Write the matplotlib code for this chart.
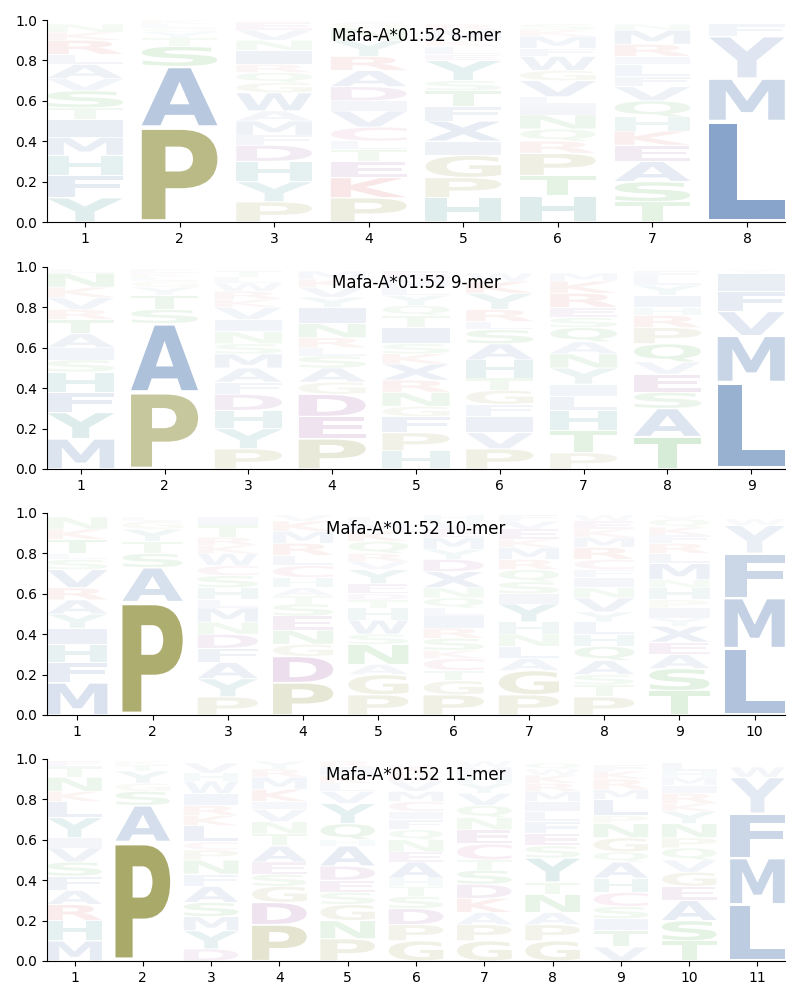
import matplotlib
matplotlib.use("Agg")
import matplotlib.pyplot as plt
from matplotlib.textpath import TextPath
from matplotlib.patches import PathPatch
from matplotlib.font_manager import FontProperties
from matplotlib.transforms import Affine2D

# letter frequencies per position, listed bottom -> top
logo_8mer = [
    [('Y', .12), ('F', .11), ('H', .10), ('M', .09), ('I', .09), ('T', .055), ('S', .085), ('V', .06), ('A', .07), ('L', .05), ('R', .07), ('K', .04), ('N', .04)],
    [('P', .47), ('A', .30), ('S', .10), ('T', .04), ('Y', .03), ('G', .02), ('L', .02), ('K', .02)],
    [('P', .10), ('Y', .10), ('H', .10), ('D', .08), ('F', .05), ('M', .07), ('A', .05), ('W', .09), ('G', .05), ('Q', .05), ('R', .04), ('I', .07), ('N', .05), ('V', .05), ('E', .04)],
    [('P', .12), ('K', .10), ('E', .08), ('T', .06), ('L', .04), ('C', .07), ('V', .08), ('I', .05), ('D', .07), ('A', .08), ('R', .07), ('Y', .08), ('N', .06), ('G', .03)],
    [('H', .12), ('P', .10), ('G', .11), ('I', .07), ('X', .10), ('F', .07), ('T', .08), ('S', .05), ('Y', .10), ('E', .03), ('L', .04), ('K', .03), ('M', .05), ('R', .03)],
    [('H', .13), ('T', .10), ('P', .11), ('R', .06), ('Q', .06), ('N', .07), ('I', .05), ('L', .04), ('V', .08), ('G', .05), ('W', .07), ('F', .04), ('M', .06), ('K', .03), ('S', .03)],
    [('T', .10), ('S', .10), ('A', .10), ('E', .08), ('K', .07), ('H', .07), ('Q', .08), ('V', .07), ('F', .05), ('L', .06), ('I', .04), ('R', .06), ('M', .07), ('N', .03)],
    [('L', .50), ('M', .21), ('Y', .21), ('F', .06)],
]

logo_9mer = [
    [('M', .15), ('Y', .13), ('F', .10), ('H', .10), ('S', .06), ('I', .06), ('A', .07), ('T', .07), ('R', .05), ('V', .06), ('K', .05), ('N', .07), ('L', .02)],
    [('P', .38), ('A', .34), ('S', .07), ('T', .07), ('Y', .04), ('G', .03), ('L', .02), ('K', .02), ('E', .02)],
    [('P', .10), ('Y', .10), ('H', .09), ('D', .08), ('F', .06), ('A', .07), ('M', .07), ('S', .05), ('N', .06), ('I', .06), ('V', .06), ('K', .04), ('R', .04), ('W', .04), ('L', .03), ('T', .03)],
    [('P', .15), ('E', .11), ('D', .11), ('G', .06), ('A', .07), ('S', .06), ('L', .04), ('R', .05), ('N', .07), ('I', .08), ('Y', .05), ('V', .05), ('K', .04), ('M', .04)],
    [('H', .09), ('P', .09), ('F', .08), ('G', .05), ('N', .07), ('R', .06), ('X', .08), ('K', .05), ('S', .05), ('I', .08), ('T', .06), ('Q', .05), ('Y', .05), ('L', .04), ('M', .04), ('E', .04)],
    [('P', .10), ('V', .08), ('I', .08), ('F', .06), ('G', .07), ('T', .06), ('H', .09), ('A', .08), ('S', .07), ('L', .04), ('R', .06), ('Y', .08), ('K', .06), ('W', .04)],
    [('P', .08), ('T', .11), ('H', .10), ('L', .07), ('I', .06), ('Y', .08), ('N', .07), ('A', .06), ('Q', .07), ('S', .05), ('E', .05), ('R', .07), ('K', .06), ('M', .04)],
    [('T', .16), ('A', .14), ('S', .08), ('E', .09), ('V', .06), ('Q', .09), ('P', .08), ('R', .06), ('H', .04), ('I', .06), ('Y', .05), ('L', .04), ('F', .03)],
    [('L', .43), ('M', .23), ('V', .12), ('F', .10), ('I', .09), ('Y', .02)],
]

logo_10mer = [
    [('M', .16), ('F', .10), ('H', .09), ('I', .08), ('Y', .07), ('A', .07), ('R', .06), ('V', .09), ('S', .05), ('L', .03), ('T', .07), ('K', .05), ('N', .06)],
    [('P', .56), ('A', .17), ('S', .07), ('T', .06), ('Y', .06), ('G', .04), ('L', .02)],
    [('P', .09), ('Y', .09), ('A', .08), ('F', .07), ('D', .07), ('N', .06), ('M', .07), ('L', .04), ('H', .06), ('S', .06), ('C', .05), ('W', .06), ('K', .04), ('R', .04), ('T', .06), ('I', .04)],
    [('P', .16), ('D', .13), ('G', .06), ('N', .07), ('E', .07), ('S', .06), ('T', .04), ('A', .04), ('H', .05), ('C', .06), ('L', .05), ('R', .06), ('M', .06), ('K', .05), ('V', .03)],
    [('P', .10), ('G', .10), ('A', .05), ('N', .10), ('S', .05), ('W', .07), ('H', .06), ('T', .04), ('D', .03), ('E', .05), ('Y', .07), ('V', .04), ('R', .04), ('Q', .06), ('K', .05), ('M', .04), ('L', .03)],
    [('P', .10), ('G', .07), ('T', .05), ('C', .06), ('K', .04), ('S', .06), ('R', .05), ('I', .06), ('L', .04), ('Q', .05), ('N', .05), ('X', .08), ('D', .06), ('Y', .05), ('M', .06), ('E', .04), ('V', .04), ('H', .03)],
    [('P', .10), ('G', .12), ('A', .06), ('L', .06), ('N', .06), ('H', .06), ('Y', .09), ('I', .05), ('S', .06), ('Q', .06), ('R', .05), ('M', .06), ('K', .04), ('E', .05), ('V', .04), ('F', .03)],
    [('P', .09), ('T', .06), ('S', .05), ('A', .07), ('Q', .07), ('H', .06), ('L', .06), ('Y', .05), ('V', .07), ('N', .05), ('I', .05), ('F', .04), ('C', .05), ('R', .06), ('M', .05), ('K', .04), ('E', .04), ('W', .03)],
    [('T', .12), ('S', .11), ('A', .07), ('E', .06), ('X', .08), ('Y', .04), ('I', .05), ('P', .04), ('H', .06), ('N', .04), ('M', .08), ('L', .05), ('R', .05), ('F', .04), ('K', .04), ('Q', .04), ('V', .02)],
    [('L', .33), ('M', .25), ('F', .22), ('Y', .14), ('W', .03)],
]

logo_11mer = [
    [('M', .10), ('H', .10), ('R', .08), ('A', .07), ('F', .07), ('S', .07), ('V', .07), ('I', .05), ('Y', .10), ('L', .08), ('K', .05), ('N', .07), ('T', .05), ('E', .03)],
    [('P', .59), ('A', .18), ('S', .07), ('G', .04), ('Y', .06), ('T', .03), ('K', .02)],
    [('D', .06), ('Y', .09), ('M', .07), ('S', .07), ('A', .08), ('F', .06), ('N', .07), ('P', .05), ('C', .04), ('L', .08), ('K', .05), ('R', .05), ('I', .06), ('W', .06), ('H', .04), ('V', .05)],
    [('P', .18), ('D', .11), ('G', .08), ('S', .06), ('E', .06), ('A', .08), ('T', .06), ('N', .06), ('V', .06), ('I', .04), ('K', .06), ('M', .06), ('R', .04), ('Y', .04)],
    [('P', .11), ('N', .09), ('G', .08), ('S', .06), ('E', .06), ('D', .07), ('A', .10), ('H', .03), ('Q', .08), ('Y', .10), ('V', .06), ('L', .04), ('K', .04), ('I', .04), ('R', .03)],
    [('G', .10), ('P', .08), ('D', .08), ('S', .06), ('T', .05), ('H', .04), ('A', .08), ('E', .05), ('N', .06), ('Q', .05), ('F', .05), ('I', .04), ('C', .05), ('M', .05), ('V', .05), ('R', .04), ('K', .04)],
    [('G', .10), ('P', .08), ('A', .06), ('K', .07), ('D', .07), ('S', .07), ('T', .05), ('C', .08), ('E', .07), ('N', .06), ('Q', .06), ('V', .06), ('Y', .05), ('H', .04), ('M', .04), ('W', .03)],
    [('G', .10), ('P', .08), ('A', .06), ('N', .09), ('T', .06), ('Y', .12), ('S', .06), ('E', .06), ('F', .06), ('L', .05), ('I', .05), ('M', .05), ('R', .04), ('K', .04), ('W', .03), ('Q', .03)],
    [('V', .07), ('T', .08), ('I', .06), ('S', .06), ('C', .07), ('H', .07), ('A', .08), ('Q', .05), ('G', .07), ('N', .07), ('P', .04), ('L', .08), ('M', .05), ('R', .05), ('K', .04), ('F', .03)],
    [('T', .10), ('S', .10), ('A', .10), ('E', .07), ('G', .07), ('V', .06), ('Q', .06), ('P', .05), ('N', .07), ('Y', .06), ('K', .04), ('R', .05), ('I', .04), ('M', .04), ('H', .03), ('L', .04)],
    [('L', .28), ('M', .23), ('F', .22), ('Y', .18), ('W', .05)],
]

titles = ["Mafa-A*01:52 8-mer", "Mafa-A*01:52 9-mer", "Mafa-A*01:52 10-mer", "Mafa-A*01:52 11-mer"]

blue = (20/255, 75/255, 150/255)
pale_blue = (110/255, 140/255, 190/255)
olive = (110/255, 110/255, 0)
green = (0, 140/255, 0)
teal = (0, 110/255, 110/255)
red = (200/255, 20/255, 20/255)
purple = (110/255, 0, 110/255)
pink = (190/255, 40/255, 110/255)

colors = {}
for c in "ALMFVIWX":
    colors[c] = blue
for c in "PG":
    colors[c] = olive
for c in "STNQ":
    colors[c] = green
for c in "HY":
    colors[c] = teal
for c in "KR":
    colors[c] = red
for c in "DE":
    colors[c] = purple
colors['C'] = pink

# the C-terminal anchor column shows Y in a pale blue
anchor_colors = {'Y': pale_blue}

fp = FontProperties(family='DejaVu Sans', weight='bold')


def draw_letter(ax, letter, x, y, w, h, color):
    tp = TextPath((0, 0), letter, size=1, prop=fp)
    bb = tp.get_extents()
    pad = 0.03 * h
    t = Affine2D().translate(-bb.x0, -bb.y0).scale(w / bb.width, (h - 2 * pad) / bb.height).translate(x - w / 2, y + pad)
    a = min(1.0, h)
    patch = PathPatch(t.transform_path(tp), facecolor=color, alpha=a, lw=0)
    ax.add_patch(patch)


def draw_logo(ax, logo, title):
    n = len(logo)
    for i, col in enumerate(logo):
        y = 0
        for letter, h in col:
            color = colors[letter]
            if i == n - 1 and letter in anchor_colors:
                color = anchor_colors[letter]
            draw_letter(ax, letter, i + 1, y, 0.8, h, color)
            y += h
    ax.set_xlim(0.6, n + 0.4)
    ax.set_ylim(0, 1)
    ax.set_xticks(range(1, n + 1))
    ax.set_yticks([0, 0.2, 0.4, 0.6, 0.8, 1.0])
    ax.spines['top'].set_visible(False)
    ax.spines['right'].set_visible(False)
    ax.text(0.5, 0.92, title, transform=ax.transAxes, ha='center', va='center', fontsize=12)


fig = plt.figure(figsize=(8, 10), dpi=100)
logos = [logo_8mer, logo_9mer, logo_10mer, logo_11mer]
bottoms = [0.778, 0.531, 0.285, 0.039]
for logo, title, b in zip(logos, titles, bottoms):
    ax = fig.add_axes([0.059, b, 0.922, 0.202])
    draw_logo(ax, logo, title)

fig.savefig("out.png")
